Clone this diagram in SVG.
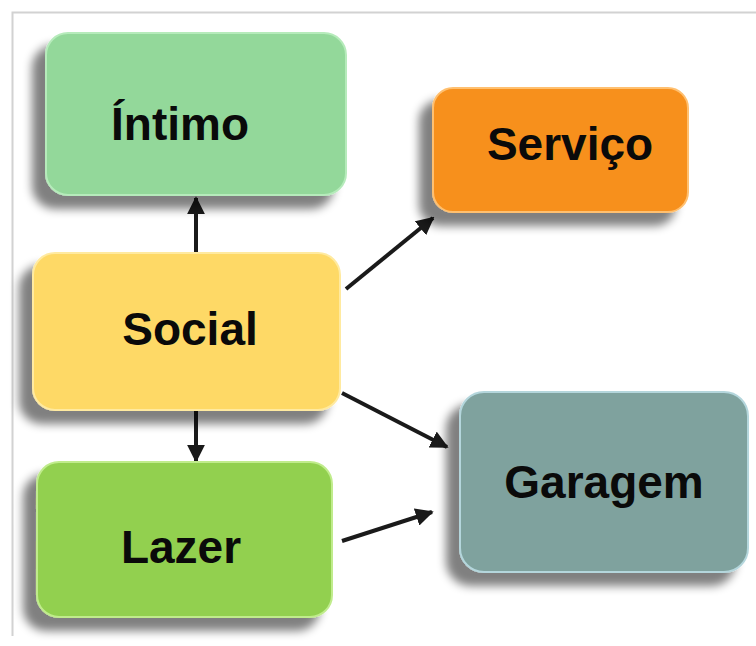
<svg xmlns="http://www.w3.org/2000/svg" width="756" height="646" viewBox="0 0 756 646">
  <defs>
    <filter id="shadow" x="-20%" y="-20%" width="140%" height="150%">
      <feGaussianBlur in="SourceAlpha" stdDeviation="5"/>
      <feOffset dx="-13" dy="13" result="blur"/>
      <feComponentTransfer><feFuncA type="linear" slope="0.5"/></feComponentTransfer>
      <feMerge><feMergeNode/><feMergeNode in="SourceGraphic"/></feMerge>
    </filter>
    <marker id="arrow" viewBox="0 0 10 10" refX="9" refY="5" markerWidth="4.5" markerHeight="4.5" orient="auto-start-reverse">
      <path d="M0,0 L10,5 L0,10 z" fill="#1a1a1a"/>
    </marker>
  </defs>
  <style>
    .box { stroke-width: 2; filter: url(#shadow); }
    .label { font-family: "Liberation Sans", Arial, sans-serif; font-weight: bold; font-size: 46px; fill: #0a0a0a; text-anchor: middle; }
    .conn { stroke: #1a1a1a; stroke-width: 4; fill: none; marker-end: url(#arrow); }
  </style>

  <rect width="756" height="646" fill="#ffffff"/>
  <!-- outer frame -->
  <path d="M12.5,636 V12.5 H756" fill="none" stroke="#d2d2d2" stroke-width="2"/>

  <g id="connectors">
    <line class="conn" x1="196" y1="253" x2="196" y2="198"/>
    <line class="conn" x1="196" y1="410" x2="196" y2="461"/>
    <line class="conn" x1="346" y1="289" x2="433" y2="218"/>
    <line class="conn" x1="342" y1="393" x2="447" y2="447"/>
    <line class="conn" x1="342" y1="541" x2="432" y2="512"/>
  </g>

  <g id="intimo">
    <rect class="box" x="46" y="33" width="300" height="162" rx="22" fill="#93D89A" stroke="#b6ebbb"/>
    <text class="label" x="180" y="140" font-size="45">Íntimo</text>
  </g>

  <g id="servico">
    <rect class="box" x="433" y="88" width="255" height="124" rx="20" fill="#F7901E" stroke="#ffc070"/>
    <text class="label" x="570" y="160" font-size="47">Serviço</text>
  </g>

  <g id="social">
    <rect class="box" x="33" y="253" width="307" height="157" rx="22" fill="#FED966" stroke="#ffeaa0"/>
    <text class="label" x="190" y="345" font-size="47">Social</text>
  </g>

  <g id="lazer">
    <rect class="box" x="37" y="462" width="295" height="155" rx="22" fill="#92D050" stroke="#c0ec8c"/>
    <text class="label" x="181" y="563">Lazer</text>
  </g>

  <g id="garagem">
    <rect class="box" x="460" y="392" width="288" height="180" rx="24" fill="#7FA29E" stroke="#b4d6dc"/>
    <text class="label" x="604" y="498" font-size="47">Garagem</text>
  </g>
</svg>
